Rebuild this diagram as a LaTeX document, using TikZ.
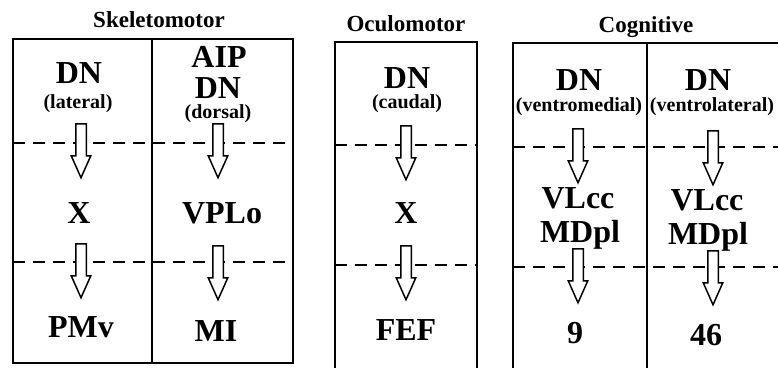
\documentclass[tikz,border=0pt]{standalone}
\usepackage{fontspec}
\setmainfont{Liberation Serif}
\usetikzlibrary{shapes.arrows}
\begin{document}
\begin{tikzpicture}[x=1pt,y=-1pt,
  big/.style={font=\fontsize{32}{32}\selectfont\bfseries, inner sep=0pt, anchor=base,
    text height=21.5pt, text depth=0pt},
  small/.style={font=\fontsize{20}{20}\selectfont\bfseries, inner sep=0pt, anchor=base,
    text height=13.5pt, text depth=3pt},
  ttl/.style={font=\fontsize{23}{23}\selectfont\bfseries, inner sep=0pt, anchor=base},
  frame/.style={line width=2.8pt},
  divider/.style={line width=2.4pt},
  sep/.style={line width=1.8pt, dash pattern=on 12pt off 8pt},
  darrow/.style={shape=single arrow, draw, fill=white, line width=1.5pt, rotate=-90,
    anchor=tail, minimum height=54pt, inner sep=4.5pt,
    single arrow head extend=4.5pt, single arrow tip angle=48}]
\useasboundingbox (0,0) rectangle (778,367);
\clip (0,0) rectangle (778,367);
\fill[white] (0,0) rectangle (778,367);

% titles
\node[ttl] (tskel) at (159,27) {Skeletomotor};
\node[ttl] (tocu) at (406,31) {Oculomotor};
\node[ttl] (tcog) at (646,32) {Cognitive};

% frames
\draw[frame] (13,39) rectangle (293,363);
\draw[divider] (152,39) -- (152,363);
\draw[frame] (335,42) rectangle (477,385);
\draw[frame] (513,43) rectangle (800,385);
\draw[divider] (647,43) -- (647,385);

% dashed separators
\draw[sep] (13,143) -- (293,143);
\draw[sep] (13,262) -- (293,262);
\draw[sep] (335,145) -- (477,145);
\draw[sep] (335,265) -- (477,265);
\draw[sep] (513,147) -- (778,147);
\draw[sep] (513,267) -- (778,267);

% Skeletomotor left
\node[big] (sl1) at (79,83) {DN};
\node[small] (sl1s) at (78,108) {(lateral)};
\node[big] (sl2) at (79,223) {X};
\node[big] (sl3) at (81,337) {PMv};
\node[darrow] (asl1) at (81,123) {};
\node[darrow] (asl2) at (81,243) {};

% Skeletomotor right
\node[big] (sr0) at (219,67) {AIP};
\node[big] (sr1) at (218,98) {DN};
\node[small] (sr1s) at (218,118) {(dorsal)};
\node[big] (sr2) at (222,223) {VPLo};
\node[big] (sr3) at (216,341) {MI};
\node[darrow] (asr1) at (218,123) {};
\node[darrow] (asr2) at (218,245) {};

% Oculomotor
\node[big] (o1) at (407,88) {DN};
\node[small] (o1s) at (407,108) {(caudal)};
\node[big] (o2) at (406,223) {X};
\node[big] (o3) at (406,340) {FEF};
\node[darrow] (ao1) at (406,125) {};
\node[darrow] (ao2) at (406,245) {};

% Cognitive left
\node[big] (cl1) at (579,90) {DN};
\node[small] (cl1s) at (579,111) {(ventromedial)};
\node[big] (cl2) at (578,208) {VLcc};
\node[big] (cl2b) at (580,242) {MDpl};
\node[big] (cl3) at (575,343) {9};
\node[darrow] (acl1) at (578,128) {};
\node[darrow] (acl2) at (578,248) {};

% Cognitive right
\node[big] (cr1) at (708,90) {DN};
\node[small] (cr1s) at (712,111) {(ventrolateral)};
\node[big] (cr2) at (707,210) {VLcc};
\node[big] (cr2b) at (708,244) {MDpl};
\node[big] (cr3) at (706,345) {46};
\node[darrow] (acr1) at (713,130) {};
\node[darrow] (acr2) at (713,250) {};
\end{tikzpicture}
\end{document}
